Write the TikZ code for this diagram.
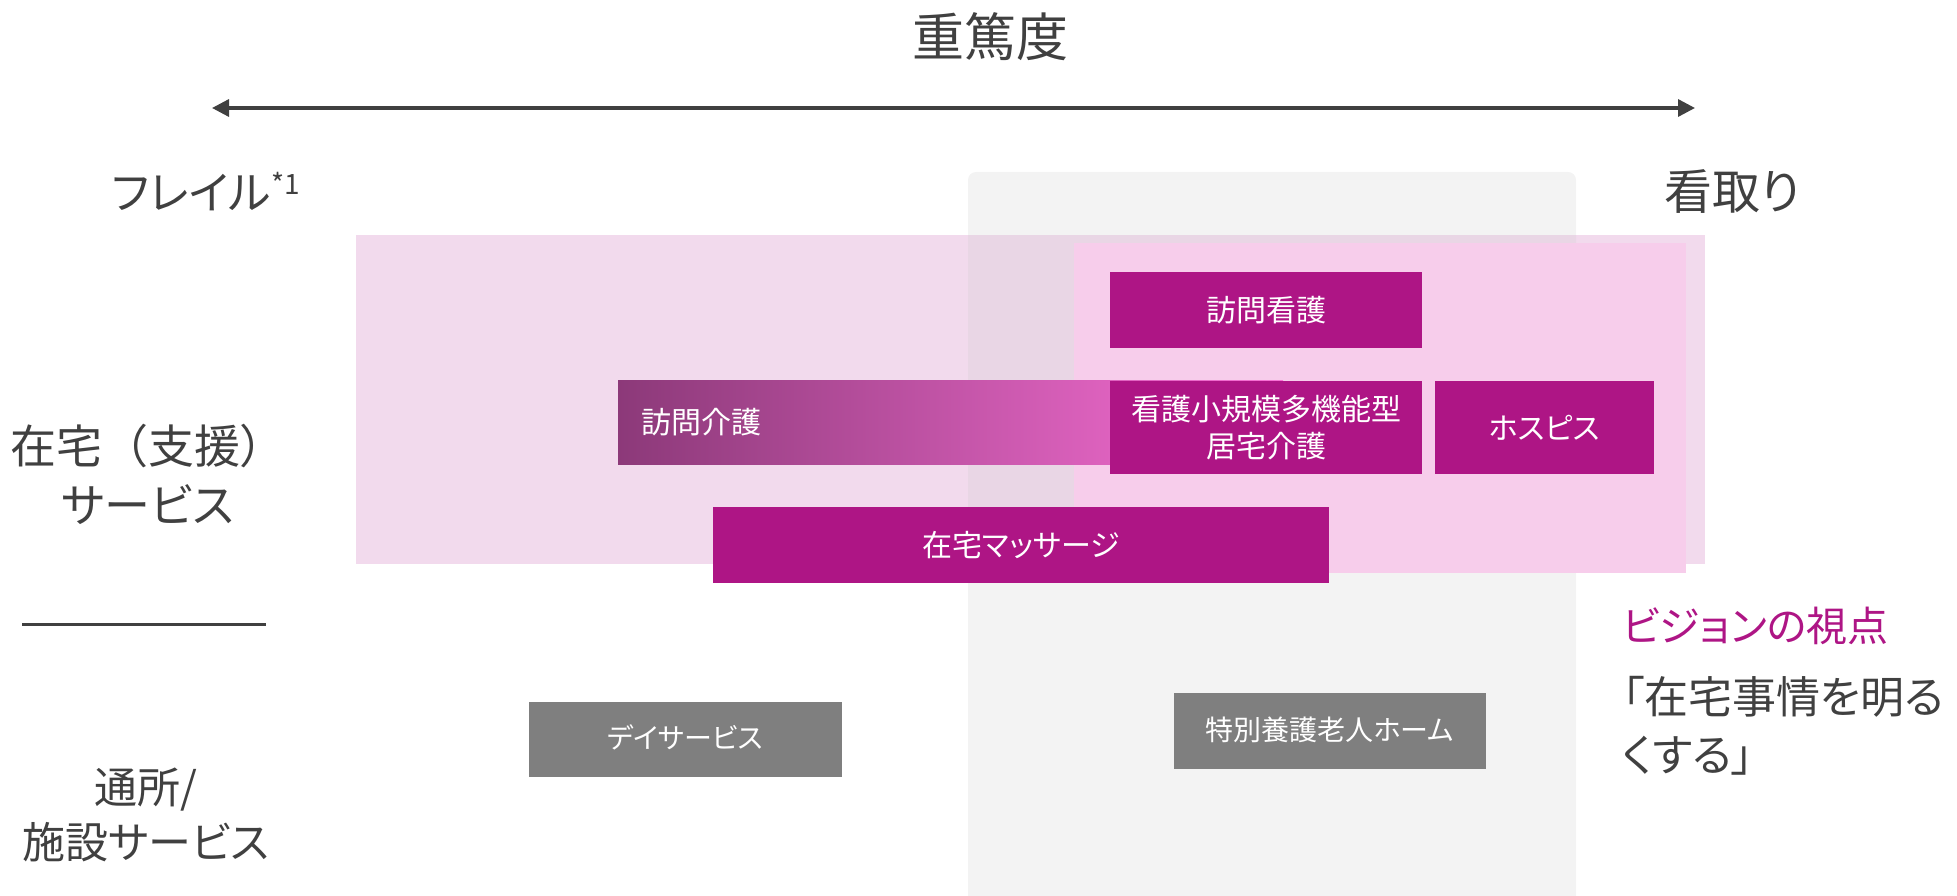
\documentclass[tikz,border=0pt]{standalone}
\usepackage{fontspec}
\setmainfont{Noto Sans CJK JP}[RawFeature={+palt}]
\newfontfamily\fullwidth{Noto Sans CJK JP}
\usetikzlibrary{arrows.meta}
\definecolor{txtgrey}{HTML}{404040}
\definecolor{svcmag}{HTML}{AE1585}
\definecolor{boxgrey}{HTML}{7F7F7F}
\definecolor{pinklight}{HTML}{F2DAED}
\definecolor{pinkmid}{HTML}{F7CDEB}
\definecolor{kaigoL}{HTML}{8C3979}
\definecolor{kaigoR}{HTML}{FA70D6}

\begin{document}
\begin{tikzpicture}[x=1pt,y=-1pt,
	box/.style={text=white, inner sep=0pt, align=center},
	svc/.style={box, fill=svcmag, font=\fontsize{30}{37}\selectfont},
	facility/.style={box, fill=boxgrey, font=\fontsize{28}{34}\selectfont},
	heading/.style={text=txtgrey, inner sep=0pt, align=center}]
\useasboundingbox (0,0) rectangle (1957,896);
\fill[pinklight] (356,235) rectangle (1705,564);
\fill[black!20, fill opacity=0.23, rounded corners=8pt] (968,172) rectangle (1576,910);
\fill[pinkmid] (1074,243) rectangle (1686,573);

\node (title) at (990,37) [heading, font=\fontsize{52}{62}\selectfont] {重篤度};
\coordinate (arrL) at (212,108);
\coordinate (arrR) at (1695,108);
\draw[txtgrey, line width=3.3pt, {Triangle[length=17pt,width=17pt]}-{Triangle[length=17pt,width=17pt]}] (arrL) -- (arrR);
\node (frail) at (112,192) [heading, anchor=west, font=\fontsize{45}{52}\selectfont] {フレイル\raisebox{15pt}{\fontsize{28}{28}\selectfont *1}};
\node (mitori) at (1664,192) [heading, anchor=west, font=\fontsize{48}{56}\selectfont] {看取り};

\node (zaitaku) at (148,474) [heading, font=\fontsize{46}{59}\selectfont] {{\fullwidth 在宅（支援）}\\サービス};
\coordinate (sepL) at (22,624);
\coordinate (sepR) at (266,624);
\draw[txtgrey, line width=3pt] (sepL) -- (sepR);
\node (tsusho) at (146,815) [heading, font=\fontsize{43}{55}\selectfont] {通所/\\施設サービス};

\node (kaigo) at (950.5,422) [box, left color=kaigoL, right color=kaigoR, minimum width=665pt, minimum height=84pt, text width=619pt, align=left, font=\fontsize{30}{37}\selectfont] {\raisebox{3pt}{訪問介護}};
\node (houmonkango) at (1266,310) [svc, minimum width=312pt, minimum height=76pt] {訪問看護};
	\node (shoukibo) at (1266,427.5) [svc, minimum width=312pt, minimum height=93pt] {看護小規模多機能型\\居宅介護};
	\node (hospice) at (1544.5,427.5) [svc, minimum width=219pt, minimum height=93pt] {ホスピス};
\node (massage) at (1021,545) [svc, minimum width=616pt, minimum height=76pt] {在宅マッサージ};

\node (day) at (685.5,739.5) [facility, minimum width=313pt, minimum height=75pt] {\raisebox{5pt}{デイサービス}};
\node (tokuyo) at (1330,731) [facility, minimum width=312pt, minimum height=76pt] {\raisebox{5pt}{特別養護老人ホーム}};

\node (vision) at (1622,626) [anchor=west, inner sep=0pt, text=svcmag, font=\fontsize{41}{55}\selectfont] {ビジョンの視点};
	\node (akaruku) at (1622,726) [heading, anchor=west, align=left, font=\fontsize{44}{58}\selectfont] {「在宅事情を明る\\くする」};
\end{tikzpicture}
\end{document}
